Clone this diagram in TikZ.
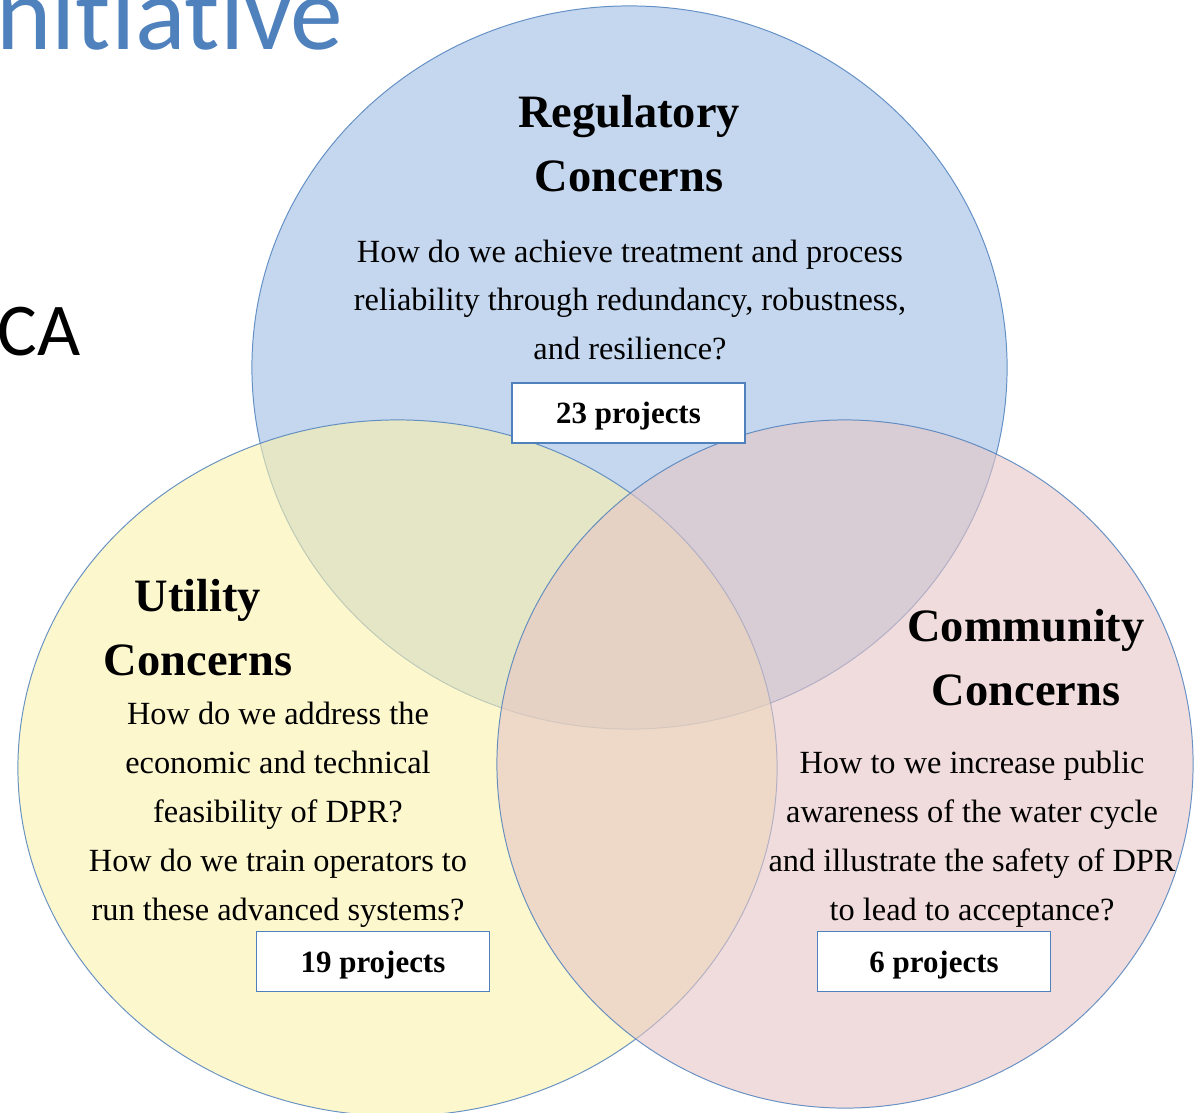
\documentclass[tikz,border=0pt]{standalone}
\usepackage{fontspec}
\setmainfont{Liberation Serif}
\newfontfamily\calibri[Ligatures=NoCommon]{Carlito}

\definecolor{edgeblue}{RGB}{79,129,189}
\definecolor{regfill}{RGB}{158,188,228}
\definecolor{utlfill}{RGB}{250,241,172}
\definecolor{comfill}{RGB}{230,197,197}

\begin{document}
\begin{tikzpicture}[x=0.025cm,y=-0.025cm,
  set/.style={draw=edgeblue,draw opacity=0.85,line width=0.7pt,fill opacity=0.6},
  head/.style={font=\fontsize{33}{45.5}\selectfont\bfseries,align=center},
  body/.style={font=\fontsize{23}{34.8}\selectfont,align=center},
  countbox/.style={draw=edgeblue,line width=1pt,fill=white,minimum width=5.825cm,minimum height=1.5cm,
    text height=15pt,text depth=0pt,font=\fontsize{22}{26}\selectfont\bfseries}]
  \useasboundingbox (0,0) rectangle (1194,1112);

  % the three sets
  \draw[set,fill=regfill] (629.5,367.5) ellipse [x radius=9.4375cm, y radius=9.0375cm];
  \draw[set,fill=utlfill] (397.5,768) ellipse [x radius=9.4875cm, y radius=8.7cm];
  \draw[set,fill=comfill] (845,764) ellipse [x radius=8.7cm, y radius=8.6cm];

  % left-over slide text
  \node[font=\calibri\fontsize{75}{80}\selectfont,text=edgeblue,anchor=base west,inner sep=0] (title) at (-4,49) {nitiative};
  \node[font=\calibri\fontsize{53}{60}\selectfont,anchor=base west,inner sep=0] (state) at (-3,355) {CA};

  % regulatory
  \node[head] (reghead) at (629,144) {Regulatory\\Concerns};
  \node[body] (regtext) at (630,300) {How do we achieve treatment and process\\reliability through redundancy, robustness,\\and resilience?};
  \node[countbox] (regbox) at (628.5,413) {23 projects};

  % utility
  \node[head] (utlhead) at (198,628) {Utility\\Concerns};
  \node[body] (utltext) at (278,815) {How do we address the\\economic and technical\\feasibility of DPR?\\How do we train operators to\\run these advanced systems?};
  \node[countbox] (utlbox) at (373,961.5) {19 projects};

  % community
  \node[head] (comhead) at (1026,658) {Community\\Concerns};
  \node[body] (comtext) at (972,839) {How to we increase public\\awareness of the water cycle\\and illustrate the safety of DPR\\to lead to acceptance?};
  \node[countbox] (combox) at (934,961.5) {6 projects};
\end{tikzpicture}
\end{document}
